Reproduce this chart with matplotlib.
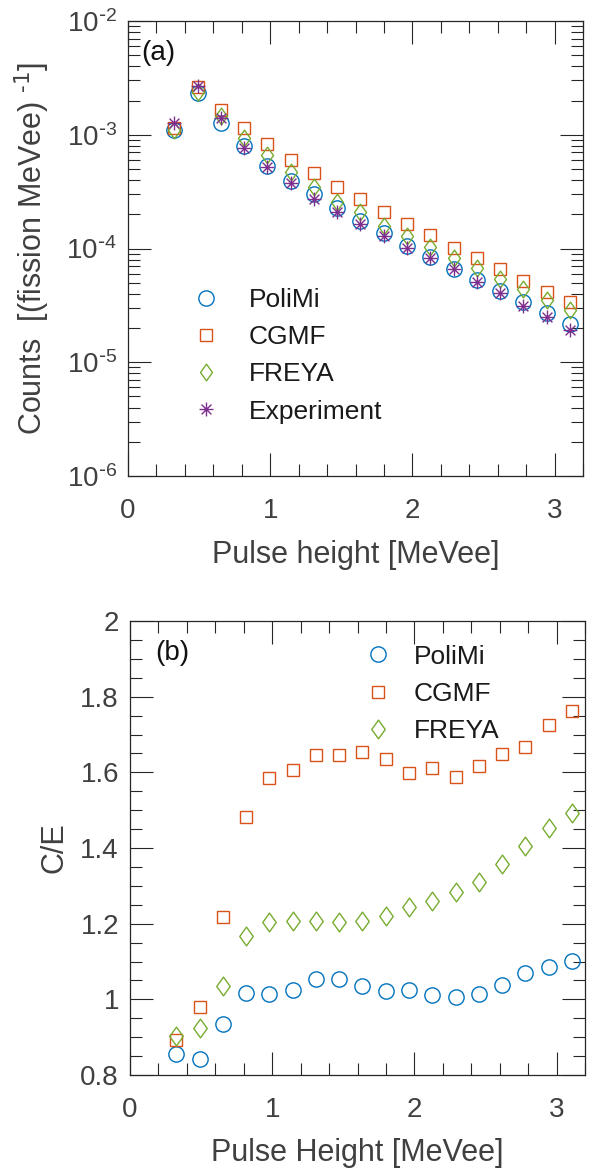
import matplotlib
matplotlib.use('Agg')
import matplotlib.pyplot as plt
from matplotlib.path import Path
from matplotlib.ticker import LogLocator, MultipleLocator, FuncFormatter, NullFormatter
import math

plt.rcParams['font.family'] = ['Liberation Sans', 'DejaVu Sans']
plt.rcParams['axes.unicode_minus'] = False

# ---------------- data ----------------
pulse_height = [0.326, 0.490, 0.654, 0.817, 0.981, 1.144, 1.308, 1.472, 1.635,
                1.799, 1.963, 2.126, 2.290, 2.454, 2.617, 2.781, 2.944, 3.108]

counts_polimi = [1.10e-3, 2.31e-3, 1.28e-3, 8.0e-4, 5.34e-4, 3.92e-4, 2.99e-4, 2.25e-4, 1.75e-4,
                 1.36e-4, 1.06e-4, 8.45e-5, 6.55e-5, 5.24e-5, 4.22e-5, 3.40e-5, 2.69e-5, 2.15e-5]
counts_cgmf = [1.14e-3, 2.61e-3, 1.65e-3, 1.14e-3, 8.23e-4, 6.0e-4, 4.57e-4, 3.45e-4, 2.72e-4,
               2.10e-4, 1.64e-4, 1.31e-4, 1.01e-4, 8.18e-5, 6.55e-5, 5.17e-5, 4.16e-5, 3.40e-5]
counts_freya = [1.10e-3, 2.39e-3, 1.46e-3, 9.29e-4, 6.63e-4, 4.73e-4, 3.49e-4, 2.58e-4, 2.08e-4,
                1.58e-4, 1.29e-4, 1.04e-4, 8.28e-5, 6.68e-5, 5.35e-5, 4.37e-5, 3.52e-5, 2.87e-5]
counts_exp = [1.26e-3, 2.68e-3, 1.39e-3, 7.69e-4, 5.23e-4, 3.79e-4, 2.75e-4, 2.10e-4, 1.64e-4,
              1.29e-4, 1.02e-4, 8.18e-5, 6.55e-5, 5.09e-5, 4.03e-5, 3.11e-5, 2.49e-5, 1.91e-5]

ce_polimi = [0.855, 0.842, 0.936, 1.018, 1.015, 1.025, 1.055, 1.053, 1.035,
             1.022, 1.024, 1.011, 1.006, 1.014, 1.038, 1.070, 1.085, 1.102]
ce_cgmf = [0.893, 0.979, 1.218, 1.483, 1.586, 1.606, 1.646, 1.645, 1.654,
           1.634, 1.599, 1.611, 1.588, 1.618, 1.648, 1.666, 1.725, 1.762]
ce_freya = [0.904, 0.925, 1.035, 1.167, 1.204, 1.208, 1.208, 1.204, 1.207,
            1.220, 1.245, 1.260, 1.285, 1.311, 1.357, 1.405, 1.454, 1.492]

labels_a = ['PoliMi', 'CGMF', 'FREYA', 'Experiment']
labels_b = ['PoliMi', 'CGMF', 'FREYA']

# ---------------- styles ----------------
c_blue = '#0072BD'
c_orange = '#D95319'
c_green = '#77AC30'
c_purple = '#7E2F8E'
axis_col = '#262626'
label_col = '#404040'

diamond = Path([(0, 1), (0.72, 0), (0, -1), (-0.72, 0), (0, 1)],
               [Path.MOVETO, Path.LINETO, Path.LINETO, Path.LINETO, Path.CLOSEPOLY])
d = 0.7071
star = Path([(-1, 0), (1, 0), (0, -1), (0, 1), (-d, -d), (d, d), (-d, d), (d, -d)],
            [Path.MOVETO, Path.LINETO] * 4)


def log_fmt(v, p):
    e = int(round(math.log10(v)))
    if e < 0:
        return r'$\mathdefault{10^{\text{-}%d}}$' % (-e)
    return r'$\mathdefault{10^{%d}}$' % e


W, H = 595, 1173
fig = plt.figure(figsize=(W / 100, H / 100), dpi=100)
ax1 = fig.add_axes([128 / W, (H - 476) / H, 455 / W, 455 / H])
ax2 = fig.add_axes([130 / W, (H - 1075) / H, 455 / W, 454 / H])

mew = 1.0
leg_kw = dict(loc='upper left', frameon=False, fontsize=19, borderpad=0, borderaxespad=0,
              handlelength=1.4, labelspacing=0.5, labelcolor='#1a1a1a')

# ---- panel (a) ----
ax1.plot(pulse_height, counts_polimi, ls='none', marker='o', ms=11, mfc='none', mec=c_blue, mew=mew, label=labels_a[0])
ax1.plot(pulse_height, counts_cgmf, ls='none', marker='s', ms=8.6, mfc='none', mec=c_orange, mew=mew, label=labels_a[1])
ax1.plot(pulse_height, counts_freya, ls='none', marker=diamond, ms=12, mfc='none', mec=c_green, mew=mew, label=labels_a[2])
ax1.plot(pulse_height, counts_exp, ls='none', marker=star, ms=10, mfc='none', mec=c_purple, mew=mew, label=labels_a[3])
ax1.set_yscale('log')
ax1.set_xlim(0, 3.2)
ax1.set_ylim(1e-6, 1e-2)
ax1.yaxis.set_major_locator(LogLocator(base=10, numticks=10))
ax1.yaxis.set_major_formatter(FuncFormatter(log_fmt))
ax1.yaxis.set_minor_locator(LogLocator(base=10, subs=range(2, 10), numticks=20))
ax1.yaxis.set_minor_formatter(NullFormatter())
ax1.set_xlabel('Pulse height [MeVee]', fontsize=22, color=label_col, labelpad=11)
ax1.set_ylabel(r'Counts  [(fission MeVee) $^{\text{-}1}$]', fontsize=22, color=label_col, labelpad=10)
ax1.text(0.03, 0.93, '(a)', transform=ax1.transAxes, fontsize=20, ha='left', va='center', color='#111111')
ax1.legend(bbox_to_anchor=(0.131, 0.413), handletextpad=0.93, **leg_kw)

# ---- panel (b) ----
ax2.plot(pulse_height, ce_polimi, ls='none', marker='o', ms=11, mfc='none', mec=c_blue, mew=mew, label=labels_b[0])
ax2.plot(pulse_height, ce_cgmf, ls='none', marker='s', ms=8.6, mfc='none', mec=c_orange, mew=mew, label=labels_b[1])
ax2.plot(pulse_height, ce_freya, ls='none', marker=diamond, ms=13.5, mfc='none', mec=c_green, mew=mew, label=labels_b[2])
ax2.set_xlim(0, 3.2)
ax2.set_ylim(0.8, 2.0)
ax2.yaxis.set_major_locator(MultipleLocator(0.2))
ax2.yaxis.set_minor_locator(MultipleLocator(0.05))
ax2.yaxis.set_major_formatter(FuncFormatter(lambda v, p: '%g' % round(v, 3)))
ax2.set_xlabel('Pulse Height [MeVee]', fontsize=22, color=label_col, labelpad=11)
ax2.set_ylabel('C/E', fontsize=22, color=label_col, labelpad=8)
ax2.text(0.055, 0.93, '(b)', transform=ax2.transAxes, fontsize=20, ha='left', va='center', color='#111111')
ax2.legend(bbox_to_anchor=(0.504, 0.948), handletextpad=0.66, **leg_kw)

for ax in (ax1, ax2):
    ax.xaxis.set_major_locator(MultipleLocator(1))
    ax.xaxis.set_minor_locator(MultipleLocator(0.2))
    ax.xaxis.set_major_formatter(FuncFormatter(lambda v, p: '%g' % round(v, 3)))
    ax.tick_params(which='both', direction='in', top=True, right=True, color=axis_col,
                   labelcolor=label_col, labelsize=20, width=0.8)
    ax.tick_params(which='major', length=16.5)
    ax.tick_params(which='minor', length=8.6)
    ax.tick_params(axis='x', which='major', pad=16)
    ax.tick_params(axis='y', which='major', pad=8)
    for s in ax.spines.values():
        s.set_color(axis_col)
        s.set_linewidth(0.9)

fig.savefig('out.png', dpi=100)
